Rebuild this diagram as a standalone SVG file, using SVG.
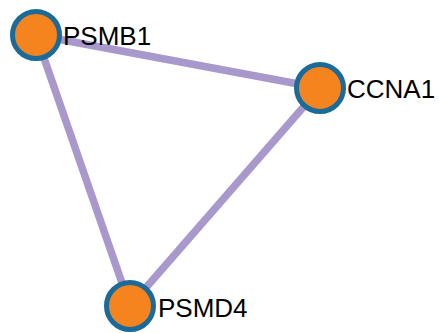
<svg xmlns="http://www.w3.org/2000/svg" width="439" height="333" viewBox="0 0 439 333">
<style>
.edge{stroke:#a898cc;stroke-width:7.5;fill:none}
.node circle{fill:#f5841f;stroke:#1a6a9a;stroke-width:5}
.node text{font-family:"Liberation Sans",Arial,sans-serif;font-size:26px;fill:#000}
</style>
<rect width="439" height="333" fill="#fff"/>
<g id="edges">
<line class="edge" x1="36" y1="35" x2="320" y2="88"/>
<line class="edge" x1="36" y1="35" x2="130" y2="306"/>
<line class="edge" x1="320" y1="88" x2="130" y2="306"/>
</g>
<g id="PSMB1" class="node"><circle cx="36" cy="35" r="23.5"/><text x="63" y="45">PSMB1</text></g>
<g id="CCNA1" class="node"><circle cx="320" cy="88" r="23.5"/><text x="347" y="98">CCNA1</text></g>
<g id="PSMD4" class="node"><circle cx="130" cy="306" r="23.5"/><text x="158" y="317">PSMD4</text></g>
</svg>
